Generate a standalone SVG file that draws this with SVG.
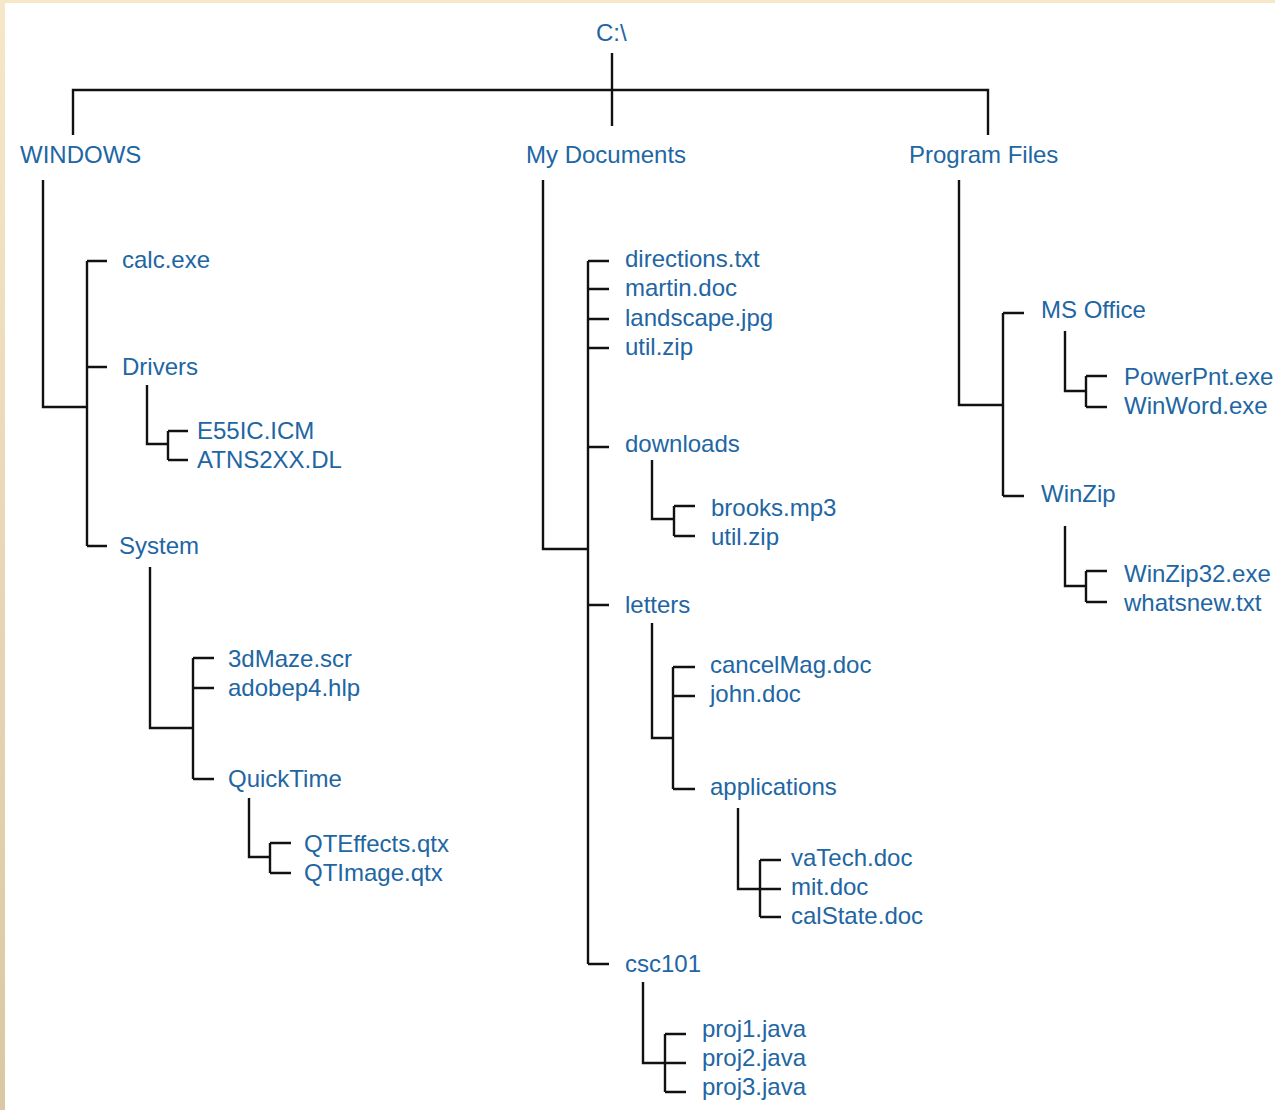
<svg xmlns="http://www.w3.org/2000/svg" width="1275" height="1110" viewBox="0 0 1275 1110">
<style>
text{font-family:"Liberation Sans",Arial,Helvetica,sans-serif;font-size:24px;fill:#2166a3}
.c path{fill:none;stroke:#111;stroke-width:2.4;stroke-linejoin:miter;stroke-linecap:butt}
</style>
<defs>
<linearGradient id="lg" x1="0" y1="0" x2="0" y2="1">
<stop offset="0" stop-color="#f6e7c9"/>
<stop offset="1" stop-color="#d9c8a2"/>
</linearGradient>
</defs>
<rect width="1275" height="1110" fill="#fff"/>
<rect x="0" y="0" width="5" height="1110" fill="url(#lg)"/>
<rect x="0" y="0" width="1275" height="3" fill="#f6e7c9"/>

<g class="c" id="connectors">
<path d="M612 53V126M73 135V90H988V135"/>
<!-- WINDOWS -->
<path d="M43 180V407H87M87 261V546M87 261H107M87 367H107M87 546H107"/>
<path d="M147 385V444H168M168 431V460M168 431H188M168 460H188"/>
<path d="M150 567V728H193M193 658V779M193 658H214M193 688H214M193 779H214"/>
<path d="M249 798V857H270M270 843V873M270 843H291M270 873H291"/>
<!-- My Documents -->
<path d="M543 180V549H588M588 261V964M588 261H609M588 289H609M588 319H609M588 348H609M588 447H609M588 605H609M588 964H609"/>
<path d="M652 460V519H674M674 506V536M674 506H695M674 536H695"/>
<path d="M652 623V738H673M673 667V789M673 667H695M673 696H695M673 789H695"/>
<path d="M738 808V889H760M760 860V917M760 860H781M760 889H781M760 917H781"/>
<path d="M643 982V1063H665M665 1034V1092M665 1034H686M665 1063H686M665 1092H686"/>
<!-- Program Files -->
<path d="M959 180V405H1003M1003 313V496M1003 313H1024M1003 496H1024"/>
<path d="M1065 331V391H1086M1086 376V407M1086 376H1107M1086 407H1107"/>
<path d="M1065 526V586H1086M1086 571V602M1086 571H1107M1086 602H1107"/>
</g>

<g id="root"><text x="596" y="41">C:\</text></g>
<g id="windows"><text x="20" y="163">WINDOWS</text></g>
<g id="mydocs"><text x="526" y="163">My Documents</text></g>
<g id="progfiles"><text x="909" y="163">Program Files</text></g>

<g id="calc"><text x="122" y="268">calc.exe</text></g>
<g id="drivers"><text x="122" y="375">Drivers</text></g>
<g id="e55ic"><text x="197" y="439">E55IC.ICM</text></g>
<g id="atns"><text x="197" y="468">ATNS2XX.DL</text></g>
<g id="system"><text x="119" y="554">System</text></g>
<g id="maze"><text x="228" y="667">3dMaze.scr</text></g>
<g id="adobe"><text x="228" y="696">adobep4.hlp</text></g>
<g id="quicktime"><text x="228" y="787">QuickTime</text></g>
<g id="qteffects"><text x="304" y="852">QTEffects.qtx</text></g>
<g id="qtimage"><text x="304" y="881">QTImage.qtx</text></g>

<g id="directions"><text x="625" y="267">directions.txt</text></g>
<g id="martin"><text x="625" y="296">martin.doc</text></g>
<g id="landscape"><text x="625" y="326">landscape.jpg</text></g>
<g id="utilzip1"><text x="625" y="355">util.zip</text></g>
<g id="downloads"><text x="625" y="452">downloads</text></g>
<g id="brooks"><text x="711" y="516">brooks.mp3</text></g>
<g id="utilzip2"><text x="711" y="545">util.zip</text></g>
<g id="letters"><text x="625" y="613">letters</text></g>
<g id="cancelmag"><text x="710" y="673">cancelMag.doc</text></g>
<g id="john"><text x="710" y="702">john.doc</text></g>
<g id="applications"><text x="710" y="795">applications</text></g>
<g id="vatech"><text x="791" y="866">vaTech.doc</text></g>
<g id="mit"><text x="791" y="895">mit.doc</text></g>
<g id="calstate"><text x="791" y="924">calState.doc</text></g>
<g id="csc101"><text x="625" y="972">csc101</text></g>
<g id="proj1"><text x="702" y="1037">proj1.java</text></g>
<g id="proj2"><text x="702" y="1066">proj2.java</text></g>
<g id="proj3"><text x="702" y="1095">proj3.java</text></g>

<g id="msoffice"><text x="1041" y="318">MS Office</text></g>
<g id="powerpnt"><text x="1124" y="385">PowerPnt.exe</text></g>
<g id="winword"><text x="1124" y="414">WinWord.exe</text></g>
<g id="winzip"><text x="1041" y="502">WinZip</text></g>
<g id="winzip32"><text x="1124" y="582">WinZip32.exe</text></g>
<g id="whatsnew"><text x="1124" y="611">whatsnew.txt</text></g>
</svg>
